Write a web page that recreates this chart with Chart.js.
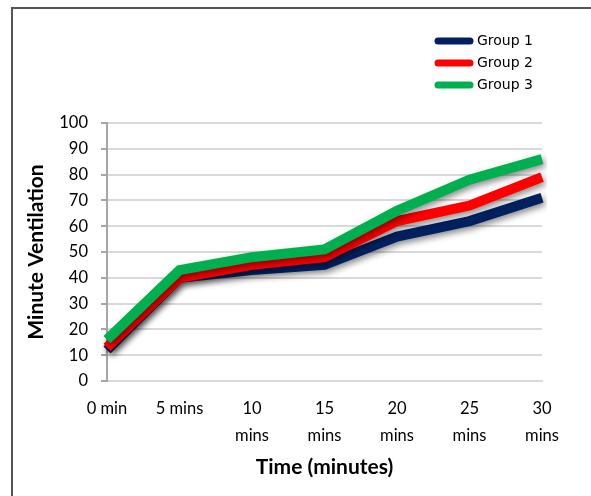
<!DOCTYPE html>
<html>
<head>
<meta charset="utf-8">
<script src="https://cdn.jsdelivr.net/npm/chart.js@4.4.1/dist/chart.umd.min.js"></script>
<style>
    html, body { margin: 0; padding: 0; background: #fff; }
    #wrap { position: relative; width: 591px; height: 496px; overflow: hidden; }
    #frame { position: absolute; left: 11px; top: 7px; width: 700px; height: 700px; border: 2px solid #555; box-sizing: border-box; }
    #ventChart { position: absolute; left: 0; top: 0; }
</style>
</head>
<body>
<div id="wrap">
    <div id="frame"></div>
    <canvas id="ventChart" width="591" height="496"></canvas>
</div>
<script>
const timeLabels = ['0 min', '5 mins', ['10', 'mins'], ['15', 'mins'], ['20', 'mins'], ['25', 'mins'], ['30', 'mins']];
const group1 = [12, 40, 43, 45, 56, 62, 71];
const group2 = [13, 40, 45, 48, 62, 68, 79];
const group3 = [16, 43, 48, 51, 66, 78, 86];
const yTicks = [0, 10, 20, 30, 40, 50, 60, 70, 80, 90, 100];

document.addEventListener('DOMContentLoaded', () => {

    /* ======= line shadows, like the Excel original ======= */
    const lineShadow = {
        id: 'lineShadow',
        beforeDatasetsDraw(chart) {
            const c = chart.ctx;
            c.save();
            c.shadowColor = 'rgba(0,0,0,0.45)';
            c.shadowBlur = 6;
            c.shadowOffsetX = 2;
            c.shadowOffsetY = 3;
        },
        afterDatasetsDraw(chart) {
            chart.ctx.restore();
        }
    };

    /* ======= legend in the top right corner ======= */
    const cornerLegend = {
        id: 'cornerLegend',
        afterDraw(chart) {
            const c = chart.ctx;
            c.save();
            c.font = '14px "DejaVu Sans"';
            c.textBaseline = 'middle';
            chart.data.datasets.forEach((ds, i) => {
                const y = 41 + i * 22;
                c.strokeStyle = ds.borderColor;
                c.lineWidth = 7;
                c.lineCap = 'round';
                c.beginPath();
                c.moveTo(438, y);
                c.lineTo(470, y);
                c.stroke();
                c.fillStyle = '#000';
                c.fillText(ds.label, 477, y);
            });
            c.restore();
        }
    };

    const ctx = document.getElementById('ventChart').getContext('2d');
    new Chart(ctx, {
        type: 'line',
        data: {
            labels: timeLabels,
            datasets: [
                { label: 'Group 1', data: group1, borderColor: '#002060', order: 3 },
                { label: 'Group 2', data: group2, borderColor: '#FF0000', order: 2 },
                { label: 'Group 3', data: group3, borderColor: '#00B050', order: 1 }
            ]
        },
        options: {
            responsive: false,
            animation: false,
            layout: { padding: { top: 123, right: 49, left: 12, bottom: 0 } },
            elements: {
                line: { borderWidth: 10, tension: 0, fill: false },
                point: { radius: 0, hoverRadius: 0 }
            },
            plugins: {
                legend: { display: false },
                tooltip: { enabled: false }
            },
            scales: {
                x: {
                    offset: false,
                    grid: { drawOnChartArea: false, drawTicks: false },
                    border: { color: '#d9d9d9', width: 2 },
                    ticks: {
                        color: '#000', padding: 14, maxRotation: 0, autoSkip: false,
                        font: { family: 'Lato', size: 16.5, lineHeight: 1.65 }
                    },
                    title: {
                        display: true, text: 'Time (minutes)', color: '#000',
                        font: { family: 'Lato', size: 21, weight: 'bold' },
                        padding: { top: 4, bottom: 16 }
                    },
                    afterFit(scale) { scale.height = 115; }
                },
                y: {
                    min: 0,
                    max: 100,
                    afterBuildTicks(scale) { scale.ticks = yTicks.map(v => ({ value: v })); },
                    grid: { color: '#d9d9d9', lineWidth: 2, tickLength: 6, tickColor: '#a6a6a6' },
                    border: { color: '#a6a6a6', width: 2 },
                    ticks: {
                        color: '#000', padding: 13,
                        font: { family: 'Lato', size: 16.5 }
                    },
                    title: {
                        display: true, text: 'Minute Ventilation', color: '#000',
                        font: { family: 'Lato', size: 21, weight: 'bold' },
                        padding: { top: 12, bottom: 4 }
                    },
                    afterFit(scale) { scale.width = 95; }
                }
            }
        },
        plugins: [lineShadow, cornerLegend]
    });

});
</script>
</body>
</html>
